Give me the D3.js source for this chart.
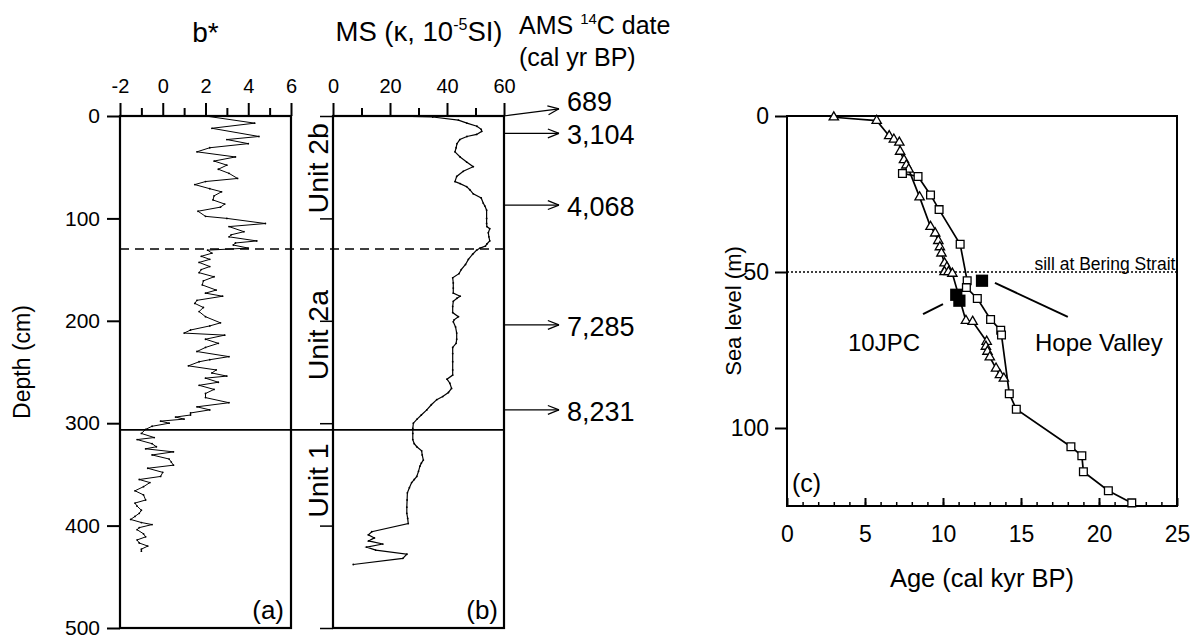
<!DOCTYPE html>
<html><head><meta charset="utf-8">
<script src="https://cdn.jsdelivr.net/npm/d3@7"></script>
<style>
body{margin:0;background:#fff}
svg{font-family:"Liberation Sans",Arial,Helvetica,sans-serif}
</style></head><body>
<svg id="c" width="1199" height="639"></svg>
<script>
// ---------- data ----------
const bStarTicks = [-2,0,2,4,6];
const bStarMinor = [-1,1,3,5];
const msTicks = [0,20,40,60];
const msMinor = [10,30,50];
const depthTicks = [0,100,200,300,400,500];
// b* (depth cm, b*)
const bStar = [[0,2.0],[7,4.3],[12,2.3],[20,4.5],[23,3.0],[27,4.0],[31,2.2],[35,1.6],[40,3.4],[44,2.4],[48,3.0],[52,2.6],[56,3.1],[61,3.5],[64,2.0],[67,1.5],[71,2.2],[74,2.75],[78,2.4],[82,2.35],[86,2.9],[89,2.7],[93,1.65],[98,2.0],[100,3.0],[105,4.8],[108,3.1],[113,3.8],[116,3.2],[118,3.1],[122,4.4],[124,3.4],[126,3.3],[129,4.0],[131,2.1],[134,2.3],[137,1.8],[140,2.2],[143,1.7],[147,2.2],[150,1.8],[153,1.7],[157,2.4],[161,1.9],[165,1.85],[170,2.5],[173,2.0],[176,2.8],[180,1.6],[183,1.5],[187,1.9],[191,1.7],[196,2.0],[202,2.7],[205,2.2],[209,1.3],[212,1.0],[214,2.9],[218,2.0],[222,2.6],[226,2.0],[230,1.6],[235,3.1],[238,2.2],[240,1.7],[244,1.2],[248,2.5],[251,2.3],[254,3.0],[256,2.0],[260,2.6],[263,1.7],[267,2.4],[271,2.0],[275,2.0],[280,3.1],[284,1.6],[287,2.2],[290,1.3],[292,1.3],[294,0.6],[296,1.0],[298,-0.1],[300,0.3],[303,-0.5],[306,-0.8],[310,-1.0],[314,-0.4],[316,-1.2],[320,-0.5],[323,-0.3],[325,-0.8],[328,0.5],[331,-0.5],[335,0.3],[338,0.4],[341,0.5],[344,-0.7],[348,0.0],[352,-0.1],[355,-1.1],[358,-0.6],[362,-0.9],[366,-1.3],[370,-0.9],[375,-0.8],[378,-1.3],[381,-1.2],[385,-1.0],[388,-1.1],[391,-1.3],[394,-1.5],[397,-1.0],[399,-0.5],[402,-1.1],[404,-1.2],[408,-0.9],[411,-0.8],[414,-1.2],[417,-1.1],[420,-0.7],[423,-1.0],[425,-1.0]];
// magnetic susceptibility (depth cm, kappa)
const ms = [[0,20],[1,35],[4,44],[7,47],[10,50.5],[13,52],[15,52.2],[18,50.4],[20,47],[23,44.5],[27,43.5],[31,43.2],[35,42.8],[40,44.6],[45,46.9],[49.5,49.2],[54,45.7],[59,43.4],[64,42.8],[66,44.6],[69,46.9],[72,48],[76,49.2],[80,52],[85,52.7],[88,53.3],[92,53.9],[100,53.9],[105,53.9],[108,54],[110,55],[114,54.5],[118,54.7],[122,55],[125,54],[127,53.5],[129,51.6],[131,50.4],[135,49],[140,47.5],[145,46.5],[150,45],[154,44.2],[158,42],[163,42.2],[168,42.2],[173,42.2],[176,44.6],[178,43.5],[181,42.2],[186,42],[192,42],[196,44],[199,42.5],[201,42.2],[206,43],[212,43.4],[218,43.4],[222,43.2],[226,42],[232,42],[240,42],[248,42],[253,42],[257,40],[261,41],[266,41.6],[270,40.5],[274,38.5],[277,36.4],[282,34.5],[287,32.9],[292,31],[296,29.5],[300,28.2],[305,28],[310,28],[316,28],[320,28.5],[323,29.4],[327,31.1],[331,31.3],[336,31.7],[339,31],[342,30.5],[347,30],[352,29.4],[355,28.5],[358,27.6],[363,26.8],[368,26.1],[375,26],[382,25.9],[388,25.9],[393,26.2],[398,26.4],[406,13.6],[409,12.4],[412,14.5],[415,12.5],[418,17.5],[421,11.8],[424,15],[428,25.9],[432,24.5],[438,7.1]];
// unit boundaries (depth cm)
const boundaryDashed = 130;
const boundarySolid = 306.5;
const unitNames = ["Unit 2b","Unit 2a","Unit 1"];
const unitMid = [51, 214, 356];
// AMS 14C dates
const dateLabels = ["689","3,104","4,068","7,285","8,231"];
const dateDepth = [0,17,87,204,287];
const dateTipDepth = [-7,17,87,204,287];
const dateLabelDepth = [-14,18,88,205,288];
// sea-level panel
const ageTicks = [0,5,10,15,20,25];
const seaTicks = [0,50,100];
const triSeries = [[3.0,0.4],[5.75,1.5],[6.55,6.4],[6.85,7.5],[7.2,8.5],[7.25,11.4],[7.5,14.1],[7.65,15.8],[7.8,17.1],[8.5,26],[9.2,35.5],[9.5,37.6],[9.7,40],[9.8,42],[9.9,44],[10.1,47.2],[10.25,48.5],[10.1,50],[10.35,50],[10.6,50.5],[11.47,65.6],[11.9,65.9],[12.8,72.3],[12.75,73.9],[12.85,75.5],[13.0,77.3],[13.4,80.9],[13.65,83],[13.9,84.1]];
const sqSeries = [[7.4,18.4],[8.4,19.4],[9.2,25.3],[9.75,30],[11.1,41.1],[11.55,52.8],[11.5,55],[12.2,58.5],[13.05,65.2],[13.7,68.7],[13.75,70.2],[14.25,89],[14.7,94],[18.2,106],[18.9,108.9],[19.0,114],[20.6,120.1],[22.1,124]];
const jpc10 = [[10.85,57.3],[11.05,59.2]];
const hopeValley = [[12.5,52.8]];
const sillLevel = 50;

// ---------- drawing ----------
const svg = d3.select("#c");
const yD = d3.scaleLinear().domain([0,500]).range([116,628]);
const xA = d3.scaleLinear().domain([-2,6]).range([120,291]);
const xB = d3.scaleLinear().domain([0,60]).range([333,504]);
const fmt = d => String(d);

function styleAxis(g, sw){
  g.select(".domain").remove();
  g.selectAll(".tick line").attr("stroke","#000").attr("stroke-width",sw);
  g.selectAll(".tick text").attr("fill","#000").attr("font-family",null);
}
function topAxis(x, major, minor){
  const g = svg.append("g").attr("transform","translate(0,116)");
  g.call(d3.axisTop(x).tickValues(major).tickSize(13).tickPadding(10).tickFormat(fmt));
  styleAxis(g,2); g.selectAll(".tick text").attr("font-size",20);
  const m = svg.append("g").attr("transform","translate(0,116)");
  m.call(d3.axisTop(x).tickValues(minor).tickSize(8).tickFormat(""));
  styleAxis(m,2);
}
topAxis(xA, bStarTicks, bStarMinor);
topAxis(xB, msTicks, msMinor);

// left depth axis (a)
const la = svg.append("g").attr("transform","translate(120,0)");
la.call(d3.axisLeft(yD).tickValues(depthTicks).tickSize(13).tickPadding(7).tickFormat(fmt));
styleAxis(la,2); la.selectAll(".tick text").attr("font-size",21);
// left ticks (b)
const lb = svg.append("g").attr("transform","translate(333,0)");
lb.call(d3.axisLeft(yD).tickValues(depthTicks).tickSize(13).tickFormat(""));
styleAxis(lb,1.5);

// boxes
[[xA,-2,6],[xB,0,60]].forEach(([x,a,b])=>{
  svg.append("rect").attr("x",x(a)).attr("y",yD(0)).attr("width",x(b)-x(a)).attr("height",yD(500)-yD(0))
    .attr("fill","none").attr("stroke","#000").attr("stroke-width",2.2);
});

// boundaries
svg.append("line").attr("x1",xA(-2)).attr("x2",xB(60)).attr("y1",yD(boundaryDashed)).attr("y2",yD(boundaryDashed))
  .attr("stroke","#000").attr("stroke-width",1.5).attr("stroke-dasharray","9,6");
svg.append("line").attr("x1",xA(-2)).attr("x2",xB(60)).attr("y1",yD(boundarySolid)).attr("y2",yD(boundarySolid))
  .attr("stroke","#000").attr("stroke-width",1.6);

// curves
svg.append("path").datum(bStar).attr("fill","none").attr("stroke","#000").attr("stroke-width",1)
  .attr("d", d3.line().x(d=>xA(d[1])).y(d=>yD(d[0])));
svg.append("g").selectAll("circle").data(bStar).join("circle").attr("cx",d=>xA(d[1])).attr("cy",d=>yD(d[0])).attr("r",0.9).attr("fill","#000");
svg.append("path").datum(ms).attr("fill","none").attr("stroke","#000").attr("stroke-width",1.2)
  .attr("d", d3.line().x(d=>xB(d[1])).y(d=>yD(d[0])));
svg.append("g").selectAll("circle").data(ms).join("circle").attr("cx",d=>xB(d[1])).attr("cy",d=>yD(d[0])).attr("r",0.9).attr("fill","#000");

// titles
svg.append("text").attr("x",205.5).attr("y",42).attr("text-anchor","middle").attr("font-size",28).text("b*");
const msT = svg.append("text").attr("x",419).attr("y",41).attr("text-anchor","middle").attr("font-size",27.5);
msT.append("tspan").text("MS (\u03BA, 10");
msT.append("tspan").attr("font-size",16).attr("dy",-11).text("-5");
msT.append("tspan").attr("dy",11).text("SI)");
const amsT = svg.append("text").attr("x",519).attr("y",34).attr("font-size",25);
amsT.append("tspan").text("AMS ");
amsT.append("tspan").attr("font-size",15).attr("dy",-10).text("14");
amsT.append("tspan").attr("dy",10).text("C date");
svg.append("text").attr("x",519).attr("y",66).attr("font-size",25).text("(cal yr BP)");

svg.append("text").attr("transform","translate(30,362) rotate(-90)").attr("text-anchor","middle").attr("font-size",23).text("Depth (cm)");

unitNames.forEach((n,i)=>{
  svg.append("text").attr("transform",`translate(328,${yD(unitMid[i])}) rotate(-90)`).attr("text-anchor","middle").attr("font-size",28.5).text(n);
});

svg.append("text").attr("x",284).attr("y",619).attr("text-anchor","end").attr("font-size",26).text("(a)");
svg.append("text").attr("x",498).attr("y",619).attr("text-anchor","end").attr("font-size",26).text("(b)");

// date arrows
dateLabels.forEach((lab,i)=>{
  const x0 = xB(60), y0 = yD(dateDepth[i]), x1 = 559, y1 = yD(dateTipDepth[i]);
  svg.append("line").attr("x1",x0).attr("y1",y0).attr("x2",x1).attr("y2",y1).attr("stroke","#000").attr("stroke-width",1.2);
  const ang = Math.atan2(y1-y0, x1-x0);
  [0.38,-0.38].forEach(da=>{
    svg.append("line").attr("x1",x1).attr("y1",y1)
      .attr("x2",x1-12*Math.cos(ang+da)).attr("y2",y1-12*Math.sin(ang+da))
      .attr("stroke","#000").attr("stroke-width",1.2);
  });
  svg.append("text").attr("x",567).attr("y",yD(dateLabelDepth[i])).attr("dy","0.36em").attr("font-size",27).text(lab);
});

// ---------- panel (c) ----------
const xC = d3.scaleLinear().domain([0,25]).range([787,1177]);
const yC = d3.scaleLinear().domain([0,125]).range([116,506]);
svg.append("rect").attr("x",xC(0)).attr("y",yC(0)).attr("width",xC(25)-xC(0)).attr("height",yC(125)-yC(0))
  .attr("fill","none").attr("stroke","#000").attr("stroke-width",2);
const cl = svg.append("g").attr("transform",`translate(${xC(0)},0)`);
cl.call(d3.axisLeft(yC).tickValues(seaTicks).tickSize(12).tickPadding(6).tickFormat(fmt));
styleAxis(cl,2); cl.selectAll(".tick text").attr("font-size",23);
const cb = svg.append("g").attr("transform",`translate(0,${yC(125)})`);
cb.call(d3.axisBottom(xC).tickValues(ageTicks).tickSize(-8).tickPadding(20).tickFormat(fmt));
styleAxis(cb,2); cb.selectAll(".tick text").attr("font-size",23);
const cbm = svg.append("g").attr("transform",`translate(0,${yC(125)})`);
cbm.call(d3.axisBottom(xC).tickValues(d3.range(1,25)).tickSize(-4).tickFormat(""));
styleAxis(cbm,1.5);

svg.append("line").attr("x1",xC(0)).attr("x2",xC(25)).attr("y1",yC(sillLevel)).attr("y2",yC(sillLevel))
  .attr("stroke","#000").attr("stroke-width",1.5).attr("stroke-dasharray","2,2");
svg.append("text").attr("x",xC(24.9)).attr("y",yC(sillLevel)-2.5).attr("text-anchor","end").attr("font-size",17.5).text("sill at Bering Strait");

const lc = d3.line().x(d=>xC(d[0])).y(d=>yC(d[1]));
svg.append("path").datum(triSeries).attr("d",lc).attr("fill","none").attr("stroke","#000").attr("stroke-width",1.7);
svg.append("path").datum(sqSeries).attr("d",lc).attr("fill","none").attr("stroke","#000").attr("stroke-width",1.7);
svg.append("g").selectAll("path").data(triSeries).join("path")
  .attr("transform",d=>`translate(${xC(d[0])},${yC(d[1])})`)
  .attr("d",d3.symbol().type(d3.symbolTriangle).size(38)).attr("fill","#fff").attr("stroke","#000").attr("stroke-width",1.3);
svg.append("g").selectAll("path").data(sqSeries).join("path")
  .attr("transform",d=>`translate(${xC(d[0])},${yC(d[1])})`)
  .attr("d",d3.symbol().type(d3.symbolSquare).size(60)).attr("fill","#fff").attr("stroke","#000").attr("stroke-width",1.3);
svg.append("g").selectAll("path").data(jpc10.concat(hopeValley)).join("path")
  .attr("transform",d=>`translate(${xC(d[0])},${yC(d[1])})`)
  .attr("d",d3.symbol().type(d3.symbolSquare).size(150)).attr("fill","#000");

// annotations
svg.append("line").attr("x1",xC(8.72)).attr("y1",yC(63.5)).attr("x2",xC(10.0)).attr("y2",yC(60.3)).attr("stroke","#000").attr("stroke-width",2);
svg.append("line").attr("x1",xC(13.33)).attr("y1",yC(53.5)).attr("x2",xC(18.0)).attr("y2",yC(64.4)).attr("stroke","#000").attr("stroke-width",2);
svg.append("text").attr("x",848).attr("y",351).attr("font-size",24).text("10JPC");
svg.append("text").attr("x",1035).attr("y",351).attr("font-size",24).text("Hope Valley");
svg.append("text").attr("x",792).attr("y",492).attr("font-size",25).text("(c)");

svg.append("text").attr("transform","translate(741,311) rotate(-90)").attr("text-anchor","middle").attr("font-size",22).text("Sea level (m)");
svg.append("text").attr("x",982).attr("y",587).attr("text-anchor","middle").attr("font-size",25.5).text("Age (cal kyr BP)");
</script>
</body></html>
